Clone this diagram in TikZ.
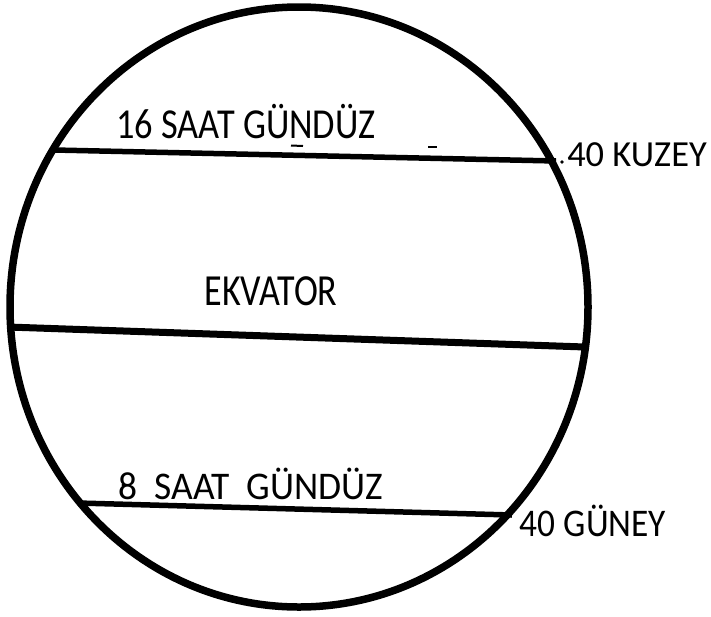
\documentclass[tikz,border=0pt]{standalone}
\usepackage{fontspec}
\setmainfont{Carlito}
\begin{document}
\begin{tikzpicture}[x=1pt,y=-1pt,
  globe/.style={draw=black,line width=7.5pt},
  parallel/.style={draw=black,line width=5.5pt},
  equator/.style={draw=black,line width=7pt},
  lbl/.style={inner sep=0pt,font=\fontsize{35pt}{40pt}\selectfont},
  speck/.style={draw=black,line width=2pt}]
\useasboundingbox (0,0) rectangle (711,616);
\fill[white] (0,0) rectangle (711,616);
\draw[globe] (299,307) ellipse [x radius=289, y radius=300];
% parallels
\coordinate (nL) at (54,150);
\coordinate (nR) at (556,161);
\coordinate (eL) at (8,327);
\coordinate (eR) at (585,347);
\coordinate (sL) at (78,503);
\coordinate (sR) at (512,515);
\draw[parallel] (nL) -- (nR);
\draw[equator] (eL) -- (eR);
\draw[parallel] (sL) -- (sR);
% specks
\draw[speck] (291,145.5) -- (303,146);
\draw[speck] (428,146.5) -- (437,146.5);
\fill (562,162) circle (1.8);
\fill (123,485) circle (1.6);
% labels
\node[lbl,xscale=1.04,yscale=1.22] (n16) at (246,122) {16 SAAT GÜNDÜZ};
\node[lbl,xscale=1.04,yscale=1.05] (kuz) at (637,155) {40 KUZEY};
\node[lbl,xscale=1.03,yscale=1.27] (ekv) at (271,291) {EKVATOR};
\node[lbl,xscale=1.07,yscale=1.12] (s8) at (251,484) {8\ \ SAAT\ \ GÜNDÜZ};
\node[lbl,xscale=1.01,yscale=1.12] (gun) at (593,521) {40 GÜNEY};
\end{tikzpicture}
\end{document}
